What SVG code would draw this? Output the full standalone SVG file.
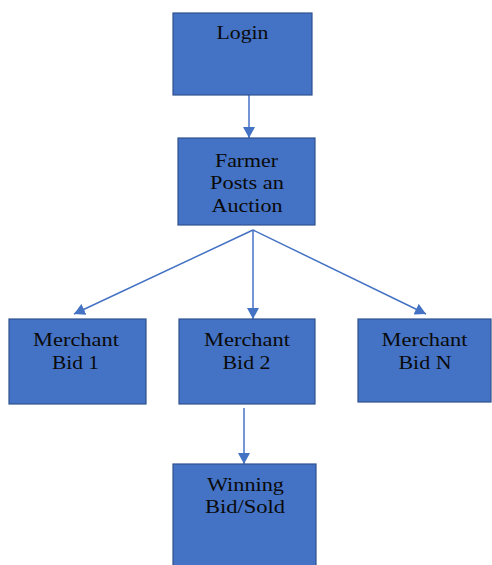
<svg xmlns="http://www.w3.org/2000/svg" width="492" height="565" viewBox="0 0 492 565" font-family="'Liberation Serif', 'Times New Roman', Times, 'DejaVu Serif', serif">
  <style>
    .box { fill: #4472C4; stroke: #2F528F; stroke-width: 1.2; }
    .lbl { font-size: 19px; fill: #0a0a0a; text-anchor: middle; }
    .link { stroke: #4472C4; stroke-width: 1.5; fill: none; marker-end: url(#arrow); }
  </style>
  <defs>
    <marker id="arrow" viewBox="0 0 12 10" refX="12" refY="5" markerWidth="11" markerHeight="12" markerUnits="userSpaceOnUse" orient="auto" preserveAspectRatio="none">
      <path d="M0,0 L12,5 L0,10 Z" fill="#4472C4"/>
    </marker>
  </defs>
  <rect width="492" height="565" fill="#ffffff"/>

  <g id="connectors">
    <line class="link" x1="249" y1="95" x2="249" y2="138"/>
    <line class="link" x1="253" y1="230" x2="74" y2="314"/>
    <line class="link" x1="253" y1="230" x2="253" y2="319"/>
    <line class="link" x1="253" y1="230" x2="426" y2="314"/>
    <line class="link" x1="244" y1="408" x2="244" y2="464"/>
  </g>

  <g id="login">
    <rect class="box" x="173" y="13" width="139" height="82"/>
    <text class="lbl" x="242.5" y="39" textLength="52" lengthAdjust="spacingAndGlyphs">Login</text>
  </g>

  <g id="farmer-posts">
    <rect class="box" x="178" y="138" width="137" height="87"/>
    <text class="lbl" x="246.5" y="166.5" textLength="63" lengthAdjust="spacingAndGlyphs">Farmer</text>
    <text class="lbl" x="247" y="189" textLength="74" lengthAdjust="spacingAndGlyphs">Posts an</text>
    <text class="lbl" x="247" y="211.5" textLength="71" lengthAdjust="spacingAndGlyphs">Auction</text>
  </g>

  <g id="merchant-bid-1">
    <rect class="box" x="9" y="319" width="137" height="85"/>
    <text class="lbl" x="76" y="346" textLength="86" lengthAdjust="spacingAndGlyphs">Merchant</text>
    <text class="lbl" x="75.5" y="369" textLength="47" lengthAdjust="spacingAndGlyphs">Bid 1</text>
  </g>

  <g id="merchant-bid-2">
    <rect class="box" x="179" y="319" width="136" height="85"/>
    <text class="lbl" x="247" y="346" textLength="86" lengthAdjust="spacingAndGlyphs">Merchant</text>
    <text class="lbl" x="246.5" y="369" textLength="48" lengthAdjust="spacingAndGlyphs">Bid 2</text>
  </g>

  <g id="merchant-bid-n">
    <rect class="box" x="358" y="319" width="133" height="83"/>
    <text class="lbl" x="424.5" y="346" textLength="86" lengthAdjust="spacingAndGlyphs">Merchant</text>
    <text class="lbl" x="425" y="369" textLength="53" lengthAdjust="spacingAndGlyphs">Bid N</text>
  </g>

  <g id="winning-bid">
    <rect class="box" x="173" y="464" width="143" height="106"/>
    <text class="lbl" x="245.5" y="490.5" textLength="77" lengthAdjust="spacingAndGlyphs">Winning</text>
    <text class="lbl" x="245" y="513" textLength="80" lengthAdjust="spacingAndGlyphs">Bid/Sold</text>
  </g>
</svg>
